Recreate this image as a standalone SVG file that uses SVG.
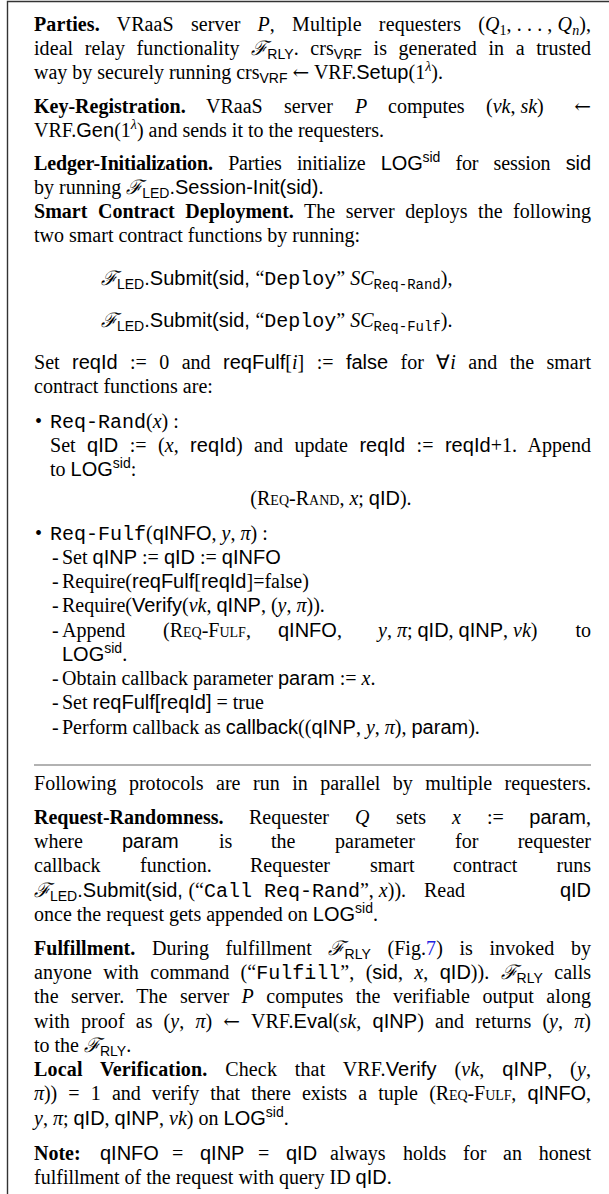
<svg xmlns="http://www.w3.org/2000/svg" width="609" height="1194" viewBox="0 0 609 1194">
<style>
text{font-family:"Liberation Serif",serif;font-size:20px;fill:#000}
.b{font-weight:bold}
.i{font-style:italic}
.sf{font-family:"Liberation Sans",sans-serif}
.tt{font-family:"Liberation Mono",monospace}
.sc{font-variant:small-caps}
.cal{font-family:"DejaVu Serif",serif;font-style:italic}
.ar{font-family:"DejaVu Serif",serif}
.s{font-size:14px}
.lnk{fill:#2020e0}
.nw{word-spacing:0}
.frame{fill:none;stroke:#333;stroke-width:1.4}
.rule{stroke:#666;stroke-width:1.2}
</style>
<rect width="609" height="1194" fill="#fff"/>
<path class="frame" d="M7.5 1194 V1.5 H609"/>

<!-- setup phase -->
<g id="setup">
<text x="34" y="31" style="word-spacing:12px" textLength="557" lengthAdjust="spacing"><tspan class="b">Parties.</tspan> VRaaS server <tspan class="i">P</tspan>, Multiple requesters <tspan class="nw">(<tspan class="i">Q</tspan><tspan class="s" dy="4">1</tspan><tspan dy="-4">, . . . , </tspan><tspan class="i">Q</tspan><tspan class="s i" dy="4">n</tspan><tspan dy="-4">),</tspan></tspan></text>
<text x="34" y="55" style="word-spacing:6.5px" textLength="557" lengthAdjust="spacing">ideal relay functionality <tspan class="cal">ℱ</tspan><tspan class="sf s" dy="4">RLY</tspan><tspan dy="-4">. crs</tspan><tspan class="sf s" dy="4">VRF</tspan><tspan dy="-4"> is generated in a trusted</tspan></text>
<text x="34" y="79">way by securely running crs<tspan class="sf s" dy="4">VRF</tspan><tspan dy="-4"> <tspan class="ar">←</tspan> VRF.</tspan><tspan class="sf">Setup</tspan>(1<tspan class="s i" dy="-8">λ</tspan><tspan dy="8">).</tspan></text>

<text y="113"><tspan x="34" class="b">Key-Registration.</tspan><tspan x="206">VRaaS</tspan><tspan x="284">server</tspan><tspan x="355" class="i">P</tspan><tspan x="388">computes</tspan><tspan x="486">(<tspan class="i">vk</tspan>, <tspan class="i">sk</tspan>)</tspan></text>
<text x="591" y="113" text-anchor="end" class="ar">←</text>
<text x="34" y="137">VRF.<tspan class="sf">Gen</tspan>(1<tspan class="s i" dy="-8">λ</tspan><tspan dy="8">) and sends it to the requesters.</tspan></text>

<text x="34" y="170" style="word-spacing:10.5px" textLength="557" lengthAdjust="spacing"><tspan class="b">Ledger-Initialization.</tspan> Parties initialize <tspan class="sf">LOG</tspan><tspan class="sf s" dy="-8">sid</tspan><tspan dy="8"> for session </tspan><tspan class="sf">sid</tspan></text>
<text x="34" y="194">by running <tspan class="cal">ℱ</tspan><tspan class="sf s" dy="4">LED</tspan><tspan class="sf" dy="-4">.Session-Init(sid)</tspan>.</text>
<text x="34" y="218" style="word-spacing:5.5px" textLength="557" lengthAdjust="spacing"><tspan class="b">Smart Contract Deployment.</tspan> The server deploys the following</text>
<text x="34" y="242">two smart contract functions by running:</text>

<text x="101" y="285"><tspan class="cal">ℱ</tspan><tspan class="sf s" dy="4">LED</tspan><tspan class="sf" dy="-4">.Submit(sid, </tspan>“<tspan class="tt">Deploy</tspan>” <tspan class="i">SC</tspan><tspan class="tt s" dy="4">Req-Rand</tspan><tspan dy="-4">),</tspan></text>
<text x="101" y="327"><tspan class="cal">ℱ</tspan><tspan class="sf s" dy="4">LED</tspan><tspan class="sf" dy="-4">.Submit(sid, </tspan>“<tspan class="tt">Deploy</tspan>” <tspan class="i">SC</tspan><tspan class="tt s" dy="4">Req-Fulf</tspan><tspan dy="-4">).</tspan></text>

<text x="34" y="369" style="word-spacing:7.4px" textLength="557" lengthAdjust="spacing">Set <tspan class="sf">reqId</tspan> := 0 and <tspan class="sf">reqFulf</tspan>[<tspan class="i">i</tspan>] := <tspan class="sf">false</tspan> for ∀<tspan class="i">i</tspan> and the smart</text>
<text x="34" y="393">contract functions are:</text>
</g>

<!-- contract function Req-Rand -->
<g id="req-rand">
<text x="35" y="428">•</text>
<text x="50" y="428"><tspan class="tt">Req-Rand</tspan>(<tspan class="i">x</tspan>) :</text>
<text x="50" y="452" style="word-spacing:6.3px" textLength="541" lengthAdjust="spacing">Set <tspan class="sf">qID</tspan> := (<tspan class="i">x</tspan>, <tspan class="sf">reqId</tspan>) and update <tspan class="sf">reqId</tspan> := <tspan class="sf">reqId</tspan>+1. Append</text>
<text x="50" y="476">to <tspan class="sf">LOG</tspan><tspan class="sf s" dy="-8">sid</tspan><tspan dy="8">:</tspan></text>
<text x="331" y="505" text-anchor="middle">(<tspan class="sc">Req-Rand</tspan>, <tspan class="i">x</tspan>; <tspan class="sf">qID</tspan>).</text>
</g>

<!-- contract function Req-Fulf -->
<g id="req-fulf">
<text x="35" y="540">•</text>
<text x="50" y="540"><tspan class="tt">Req-Fulf</tspan>(<tspan class="sf">qINFO</tspan>, <tspan class="i">y</tspan>, <tspan class="i">π</tspan>) :</text>
<text x="52" y="564">-</text>
<text x="62" y="564">Set <tspan class="sf">qINP</tspan> := <tspan class="sf">qID</tspan> := <tspan class="sf">qINFO</tspan></text>
<text x="52" y="588">-</text>
<text x="62" y="588">Require(<tspan class="sf">reqFulf</tspan>[<tspan class="sf">reqId</tspan>]=false)</text>
<text x="52" y="612">-</text>
<text x="62" y="612">Require(<tspan class="sf">Verify</tspan>(<tspan class="i">vk</tspan>, <tspan class="sf">qINP</tspan>, (<tspan class="i">y</tspan>, <tspan class="i">π</tspan>)).</text>
<text x="52" y="637">-</text>
<text y="637"><tspan x="62">Append</tspan><tspan x="163">(<tspan class="sc">Req-Fulf</tspan>,</tspan><tspan x="278" class="sf">qINFO</tspan>,<tspan x="378" class="i">y</tspan>, <tspan class="i">π</tspan>; <tspan class="sf">qID</tspan>, <tspan class="sf">qINP</tspan>, <tspan class="i">vk</tspan>)</text>
<text x="591" y="637" text-anchor="end">to</text>
<text x="62" y="661"><tspan class="sf">LOG</tspan><tspan class="sf s" dy="-8">sid</tspan><tspan dy="8">.</tspan></text>
<text x="52" y="685">-</text>
<text x="62" y="685">Obtain callback parameter <tspan class="sf">param</tspan> := <tspan class="i">x</tspan>.</text>
<text x="52" y="709">-</text>
<text x="62" y="709">Set <tspan class="sf">reqFulf[reqId]</tspan> = true</text>
<text x="52" y="734">-</text>
<text x="62" y="734">Perform callback as <tspan class="sf">callback</tspan>((<tspan class="sf">qINP</tspan>, <tspan class="i">y</tspan>, <tspan class="i">π</tspan>), <tspan class="sf">param</tspan>).</text>
</g>

<line class="rule" x1="34" y1="765" x2="591" y2="765"/>

<!-- requester protocols -->
<g id="requesters">
<text x="34" y="790" style="word-spacing:7.4px" textLength="557" lengthAdjust="spacing">Following protocols are run in parallel by multiple requesters.</text>

<text y="824"><tspan x="34" class="b">Request-Randomness.</tspan><tspan x="249">Requester</tspan><tspan x="355" class="i">Q</tspan><tspan x="396">sets</tspan><tspan x="452" class="i">x</tspan><tspan x="487">:=</tspan></text>
<text x="591" y="824" text-anchor="end"><tspan class="sf">param</tspan>,</text>
<text y="848"><tspan x="34">where</tspan><tspan x="122" class="sf">param</tspan><tspan x="219">is</tspan><tspan x="271">the</tspan><tspan x="335">parameter</tspan><tspan x="455">for</tspan></text>
<text x="591" y="848" text-anchor="end">requester</text>
<text y="872"><tspan x="34">callback</tspan><tspan x="140">function.</tspan><tspan x="250">Requester</tspan><tspan x="370">smart</tspan><tspan x="453">contract</tspan></text>
<text x="591" y="872" text-anchor="end">runs</text>
<text x="34" y="897"><tspan class="cal">ℱ</tspan><tspan class="sf s" dy="4">LED</tspan><tspan class="sf" dy="-4">.Submit(sid, </tspan>(“<tspan class="tt">Call Req-Rand</tspan>”, <tspan class="i">x</tspan>)).</text>
<text x="424" y="897">Read</text>
<text x="591" y="897" text-anchor="end" class="sf">qID</text>
<text x="34" y="921">once the request gets appended on <tspan class="sf">LOG</tspan><tspan class="sf s" dy="-8">sid</tspan><tspan dy="8">.</tspan></text>

<text x="34" y="955" style="word-spacing:11.5px" textLength="557" lengthAdjust="spacing"><tspan class="b">Fulfillment.</tspan> During fulfillment <tspan class="cal">ℱ</tspan><tspan class="sf s" dy="4">RLY</tspan><tspan dy="-4"> (Fig.</tspan><tspan class="lnk">7</tspan>) is invoked by</text>
<text x="34" y="979" style="word-spacing:6.4px" textLength="557" lengthAdjust="spacing">anyone with command (“<tspan class="tt">Fulfill</tspan>”, (<tspan class="sf">sid</tspan>, <tspan class="i">x</tspan>, <tspan class="sf">qID</tspan>)). <tspan class="cal">ℱ</tspan><tspan class="sf s" dy="4">RLY</tspan><tspan dy="-4"> calls</tspan></text>
<text x="34" y="1003" style="word-spacing:7.4px" textLength="557" lengthAdjust="spacing">the server. The server <tspan class="i">P</tspan> computes the verifiable output along</text>
<text x="34" y="1028" style="word-spacing:6px" textLength="557" lengthAdjust="spacing">with proof as (<tspan class="i">y</tspan>, <tspan class="i">π</tspan>) <tspan class="ar">←</tspan> VRF.<tspan class="sf">Eval</tspan>(<tspan class="i">sk</tspan>, <tspan class="sf">qINP</tspan>) and returns (<tspan class="i">y</tspan>, <tspan class="i">π</tspan>)</text>
<text x="34" y="1052">to the <tspan class="cal">ℱ</tspan><tspan class="sf s" dy="4">RLY</tspan><tspan dy="-4">.</tspan></text>
<text x="34" y="1076" style="word-spacing:12.5px" textLength="557" lengthAdjust="spacing"><tspan class="b">Local Verification.</tspan> Check that VRF.<tspan class="sf">Verify</tspan> (<tspan class="i">vk</tspan>, <tspan class="sf">qINP</tspan>, (<tspan class="i">y</tspan>,</text>
<text x="34" y="1100" style="word-spacing:6.3px" textLength="557" lengthAdjust="spacing"><tspan class="i">π</tspan>)) = 1 and verify that there exists a tuple (<tspan class="sc">Req-Fulf</tspan>, <tspan class="sf">qINFO</tspan>,</text>
<text x="34" y="1125"><tspan class="i">y</tspan>, <tspan class="i">π</tspan>; <tspan class="sf">qID</tspan>, <tspan class="sf">qINP</tspan>, <tspan class="i">vk</tspan>) on <tspan class="sf">LOG</tspan><tspan class="sf s" dy="-8">sid</tspan><tspan dy="8">.</tspan></text>

<text y="1160"><tspan x="34" class="b">Note:</tspan><tspan x="100" class="sf">qINFO</tspan><tspan x="172">=</tspan><tspan x="200" class="sf">qINP</tspan><tspan x="258">=</tspan><tspan x="286" class="sf">qID</tspan><tspan x="330">always</tspan><tspan x="403">holds</tspan><tspan x="463">for</tspan><tspan x="503">an</tspan></text>
<text x="591" y="1160" text-anchor="end">honest</text>
<text x="34" y="1184">fulfillment of the request with query ID <tspan class="sf">qID</tspan>.</text>
</g>
</svg>
